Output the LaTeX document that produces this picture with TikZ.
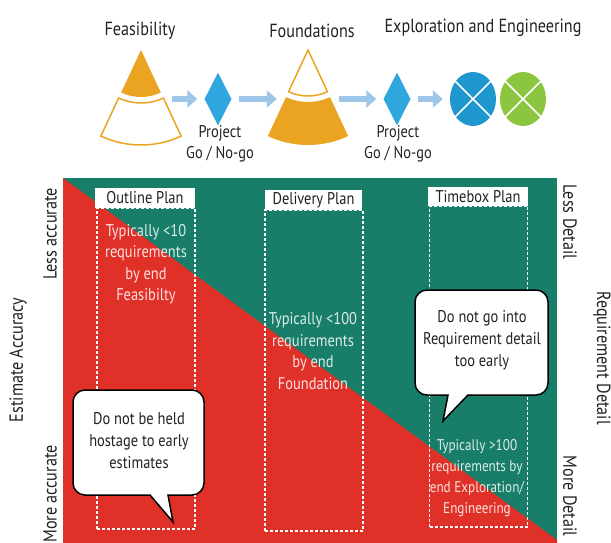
\documentclass[tikz,border=0pt]{standalone}
\usepackage{fontspec}
\setmainfont[FakeStretch=0.85]{PT Sans}
\usepackage{xcolor}
\usepackage{tikz}
\usetikzlibrary{shapes,arrows.meta}
\definecolor{coneorange}{HTML}{EBA422}
\definecolor{arrowblue}{HTML}{9DC6E8}
\definecolor{gateblue}{HTML}{2EA6DE}
\definecolor{exploreblue}{HTML}{1E96CE}
\definecolor{engineergreen}{HTML}{8CC540}
\definecolor{detailgreen}{HTML}{187E69}
\definecolor{accuracyred}{HTML}{E03129}
\definecolor{inktext}{HTML}{222222}

\begin{document}
\begin{tikzpicture}[x=1pt,y=-1pt,
	font=\fontsize{17}{21}\selectfont, text=inktext,
	blockarrow/.style={draw=arrowblue,line width=6pt,-{Triangle[length=10pt,width=17pt]},shorten <=7pt,shorten >=7pt},
	gate/.style={diamond,fill=gateblue,minimum width=27pt,minimum height=53pt,inner sep=0pt},
	phase/.style={ellipse,minimum width=46pt,minimum height=54pt,inner sep=0pt},
	cone/.style={minimum width=48pt,minimum height=10pt,inner sep=0pt},
	plan/.style={fill=white,minimum height=20pt,inner sep=0pt},
	planbox/.style={draw=white,line width=1.2pt,dash pattern=on 3pt off 2pt,minimum width=98pt,minimum height=321pt},
	note/.style={text=white,text opacity=.85,align=center,font=\fontsize{17}{21.5}\selectfont},
	bubble/.style={draw=black,fill=white,line width=1.5pt},
	axis/.style={font=\fontsize{19}{20}\selectfont}]
	\useasboundingbox (0,0) rectangle (611,543);
	%
	% phases along the top
	\node[font=\fontsize{19}{20}\selectfont] (feastitle) at (140,31) {Feasibility};
	\node[font=\fontsize{19}{20}\selectfont] (foundtitle) at (312,31) {Foundations};
	\node[font=\fontsize{19}{20}\selectfont] (eetitle) at (483,28) {Exploration and Engineering};
	%
	\fill[coneorange] (141,50) -- ++(65:47) arc[start angle=65,end angle=115,radius=47] -- cycle;
	\draw[coneorange,line width=1.5pt] (141,50) ++(65:53) arc[start angle=65,end angle=115,radius=53]
		-- ++(115:42) arc[start angle=115,end angle=65,radius=95] -- cycle;
	\draw[coneorange,line width=1.5pt] (308,50) -- ++(65:46) arc[start angle=65,end angle=115,radius=46] -- cycle;
	\fill[coneorange] (308,50) ++(65:52) arc[start angle=65,end angle=115,radius=52]
		-- ++(115:43) arc[start angle=115,end angle=65,radius=95] -- cycle;
	%
	\node[cone] (feas) at (141,99) {};
	\node[cone] (found) at (308,99) {};
	\node[gate] (go1) at (218,99) {};
	\node[gate] (go2) at (397,99) {};
	\node[phase,fill=exploreblue] (explore) at (473,99) {};
	\node[phase,fill=engineergreen] (engineer) at (523,99) {};
	\node[align=center] (go1text) at (220,143.5) {Project\\Go / No-go};
	\node[align=center] (go2text) at (398,143.5) {Project\\Go / No-go};
	%
	\draw[white,line width=1.5pt] (explore.135) -- (explore.-45) (explore.45) -- (explore.-135);
	\draw[white,line width=1.5pt] (engineer.135) -- (engineer.-45) (engineer.45) -- (engineer.-135);
	%
	\draw[blockarrow] (feas) -- (go1);
	\draw[blockarrow] (go1) -- (found);
	\draw[blockarrow] (found) -- (go2);
	\draw[blockarrow] (go2) -- (explore);
	%
	% accuracy against detail
	\fill[detailgreen] (63,178) rectangle (557,543);
	\fill[accuracyred] (63,178) -- (557,540) -- (557,543) -- (63,543) -- cycle;
	%
	\node[planbox] (outlinebox) at (146,368.5) {};
	\node[planbox] (deliverybox) at (314,370.5) {};
	\node[planbox] (timeboxbox) at (478.5,366.5) {};
	\node[plan,minimum width=100pt] (outline) at (145,198) {Outline Plan};
	\node[plan,minimum width=97pt] (delivery) at (313.5,200) {Delivery Plan};
	\node[plan,minimum width=100pt,minimum height=19pt] (timebox) at (478,196.5) {Timebox Plan};
	%
	\node[note] (outlinenote) at (146,264) {Typically <10\\requirements\\by end\\Feasibilty};
	\node[note] (deliverynote) at (313,351) {Typically <100\\requirements\\by end\\Foundation};
	\node[note,font=\fontsize{15.5}{21}\selectfont] (timeboxnote) at (477,478.5) {Typically >100\\requirements by\\end Exploration/\\Engineering};
	%
	\draw[bubble] (100,390) [rounded corners=12pt] -- (204,390) -- (204,495) [sharp corners] -- (168,495) -- (173,522)
		-- (150,495) [rounded corners=12pt] -- (73,495) -- (73,390) -- cycle;
	\node[align=center,font=\fontsize{17}{22}\selectfont] (hostage) at (139,441) {Do not be held\\hostage to early\\estimates};
	\draw[bubble] (450,290) [rounded corners=12pt] -- (548,290) -- (548,395) [sharp corners] -- (468,395) -- (443,421)
		-- (448,395) [rounded corners=12pt] -- (415,395) -- (415,290) -- cycle;
	\node[align=center,font=\fontsize{17}{22}\selectfont] (tooearly) at (482,340) {Do not go into\\Requirement detail\\too early};
	%
	\node[axis,rotate=90] (accuracy) at (18,360) {Estimate Accuracy};
	\node[axis,rotate=90] (lessacc) at (50,234) {Less accurate};
	\node[axis,rotate=90] (moreacc) at (50,494) {More accurate};
	\node[axis,rotate=-90] (detail) at (602,358) {Requirement Detail};
	\node[axis,rotate=-90] (lessdet) at (570,222) {Less Detail};
	\node[axis,rotate=-90] (moredet) at (570,496) {More Detail};
\end{tikzpicture}
\end{document}
